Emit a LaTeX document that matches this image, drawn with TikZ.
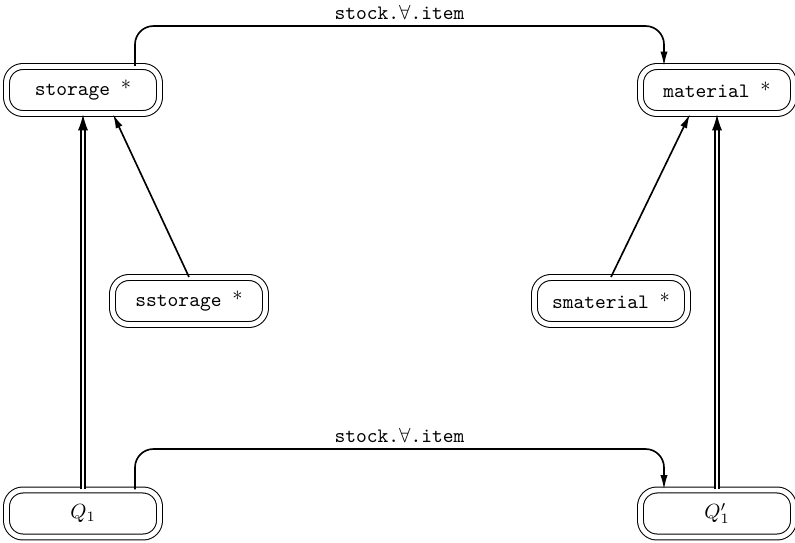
\documentclass[tikz,border=0pt]{standalone}
\usetikzlibrary{arrows.meta,calc}
\newlength\pxu
\setlength\pxu{0.4878pt}
\newcommand\boxast{\raisebox{3pt}{$*$}}
\begin{document}
\begin{tikzpicture}[x=0.4878pt,y=-0.4878pt,
  box/.style={draw, double, line width=0.5pt, double distance=2.4pt, rounded corners=8pt,
    minimum width=153\pxu, minimum height=47\pxu, inner sep=0pt, font=\ttfamily},
  conn/.style={line width=0.8pt, -{Latex[length=7pt,width=3.5pt]}},
  elbow/.style={conn, rounded corners=9pt},
  dbl/.style={line width=1pt, double, double distance=1pt},
  dtip/.style={-{Latex[length=8pt,width=5pt]}, line width=1pt},
  lbl/.style={font=\ttfamily, above, inner sep=2.5pt}]
\useasboundingbox (0,0) rectangle (795,542);
\node[box] (storage) at (83,90) {storage~\boxast};
\node[box] (material) at (717,90) {material~\boxast};
\node[box] (sstorage) at (189,301) {sstorage~\boxast};
\node[box] (smaterial) at (611,301) {smaterial~\boxast};
\node[box] (q1) at (83,513.5) {$Q_1$};
\node[box] (q1p) at (717,513.5) {$Q'_1$};
\coordinate (ttop) at (400,26);
\coordinate (tbot) at (400,449);
\coordinate (s1) at ($(storage.north)+(52,0)$);
\coordinate (m1) at ($(material.north)+(-53,0)$);
\coordinate (q1a) at ($(q1.north)+(52,0)$);
\coordinate (q1b) at ($(q1p.north)+(-53,0)$);
\coordinate (s2) at ($(storage.south)+(30,0)$);
\coordinate (m2) at ($(material.south)+(-27,0)$);
\coordinate (sd) at ($(storage.south)+(0,12)$);
\coordinate (sa) at ($(storage.south)+(0,16)$);
\coordinate (md) at ($(material.south)+(0,12)$);
\coordinate (ma) at ($(material.south)+(0,16)$);
\draw[elbow] (s1) -- (s1 |- ttop) -- node[lbl]{stock.$\forall$.item} (m1 |- ttop) -- (m1);
\draw[elbow] (q1a) -- (q1a |- tbot) -- node[lbl]{stock.$\forall$.item} (q1b |- tbot) -- (q1b);
\draw[conn] (sstorage.north) -- (s2);
\draw[conn] (smaterial.north) -- (m2);
\draw[dbl] (q1.north) -- (sd);
\draw[dtip] (sa) -- (storage.south);
\draw[dbl] (q1p.north) -- (md);
\draw[dtip] (ma) -- (material.south);
\end{tikzpicture}
\end{document}
